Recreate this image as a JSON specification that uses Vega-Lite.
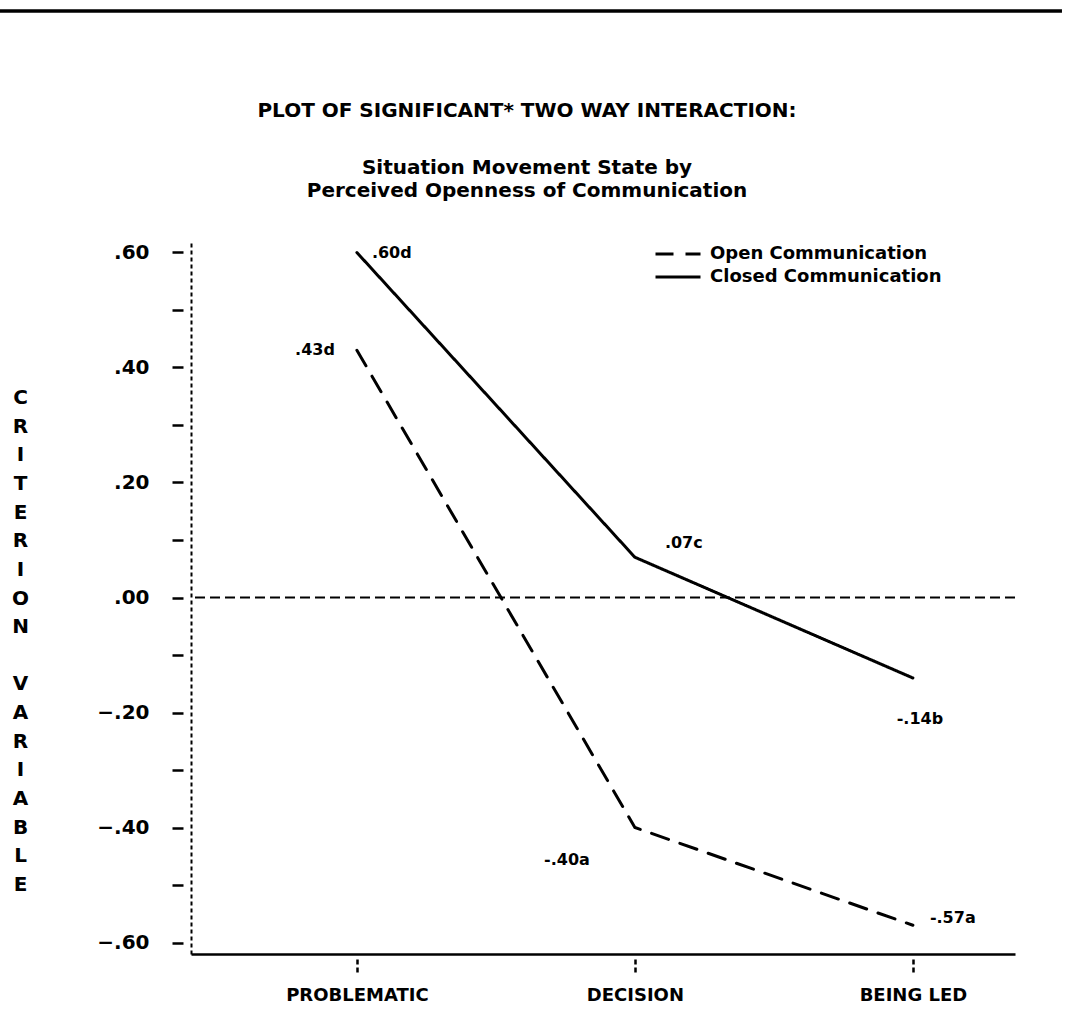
{
  "$schema": "https://vega.github.io/schema/vega-lite/v6.json",
  "autosize": {"type": "none"},
  "padding": {"left": 191, "top": 241, "right": 53, "bottom": 63},
  "width": 824,
  "height": 713,
  "background": "white",
  "config": {"font": "DejaVu Sans", "view": {"stroke": null}},
  "title": {
    "text": "PLOT OF SIGNIFICANT* TWO WAY INTERACTION:",
    "subtitle": ["Situation Movement State by", "Perceived Openness of Communication"],
    "anchor": "middle",
    "frame": "group",
    "dx": -76,
    "offset": -192,
    "font": "DejaVu Sans",
    "fontSize": 20,
    "fontWeight": "bold",
    "color": "black",
    "subtitleFont": "DejaVu Sans",
    "subtitleFontSize": 20,
    "subtitleFontWeight": "bold",
    "subtitleColor": "black",
    "subtitleLineHeight": 23,
    "subtitlePadding": 37
  },
  "datasets": {
    "means": [
      {"situation": "PROBLEMATIC", "communication": "Open Communication", "mean": 0.43, "label": ".43d"},
      {"situation": "DECISION", "communication": "Open Communication", "mean": -0.40, "label": "-.40a"},
      {"situation": "BEING LED", "communication": "Open Communication", "mean": -0.57, "label": "-.57a"},
      {"situation": "PROBLEMATIC", "communication": "Closed Communication", "mean": 0.60, "label": ".60d"},
      {"situation": "DECISION", "communication": "Closed Communication", "mean": 0.07, "label": ".07c"},
      {"situation": "BEING LED", "communication": "Closed Communication", "mean": -0.14, "label": "-.14b"}
    ]
  },
  "data": {"name": "means"},
  "resolve": {"scale": {"x": "independent"}, "axis": {"x": "independent"}},
  "layer": [
    {
      "data": {"values": [{"item": "page rule"}]},
      "mark": {"type": "rule", "clip": false, "color": "black", "strokeWidth": 3.5},
      "encoding": {
        "x": {"datum": -0.232, "type": "quantitative", "scale": {"domain": [0, 1], "nice": false, "zero": false}, "axis": null},
        "x2": {"datum": 1.057},
        "y": {"datum": 1.02, "type": "quantitative", "scale": {"domain": [-0.62, 0.62], "nice": false, "zero": false}}
      }
    },
    {
      "layer": [
        {
          "data": {"values": [{"item": "zero line"}]},
          "mark": {"type": "rule", "color": "black", "strokeWidth": 2, "strokeDash": [10, 5]},
          "encoding": {
            "y": {"datum": 0, "type": "quantitative"}
          }
        },
        {
          "mark": {"type": "line", "color": "black", "strokeWidth": 3, "strokeCap": "round", "clip": false},
          "encoding": {
            "x": {
              "field": "situation",
              "type": "nominal",
              "sort": ["PROBLEMATIC", "DECISION", "BEING LED"],
              "scale": {"type": "point", "padding": 0.482, "align": 0.619},
              "axis": {
                "title": null,
                "domainColor": "black",
                "domainWidth": 2.5,
                "tickColor": "black",
                "tickSize": 20,
                "tickWidth": 2.5,
                "tickDash": [0, 5, 5, 3, 5, 30],
                "labelFont": "DejaVu Sans",
                "labelFontSize": 18,
                "labelFontWeight": "bold",
                "labelColor": "black",
                "labelPadding": 12,
                "labelAngle": 0,
                "grid": false
              }
            },
            "y": {
              "field": "mean",
              "type": "quantitative",
              "scale": {"domain": [-0.62, 0.62], "nice": false, "zero": false},
              "axis": {
                "values": [-0.6, -0.55, -0.5, -0.45, -0.4, -0.35, -0.3, -0.25, -0.2, -0.15, -0.1, -0.05, 0, 0.05, 0.1, 0.15, 0.2, 0.25, 0.3, 0.35, 0.4, 0.45, 0.5, 0.55, 0.6],
                "labelExpr": "round(datum.value * 100) % 20 === 0 ? replace(format(datum.value, '.2f'), '0.', '.') : ''",
                "labelFont": "DejaVu Sans",
                "labelFontSize": 20,
                "labelFontWeight": "bold",
                "labelColor": "black",
                "labelPadding": 23,
                "labelOverlap": false,
                "labelFlush": false,
                "tickColor": "black",
                "tickSize": 19,
                "tickWidth": 2.5,
                "tickDash": [0, 8, 11, 30],
                "domainColor": "black",
                "domainWidth": 2,
                "domainDash": [4, 3],
                "grid": false,
                "title": ["C", "R", "I", "T", "E", "R", "I", "O", "N", "\u200b", "V", "A", "R", "I", "A", "B", "L", "E"],
                "titleAngle": 0,
                "titleAlign": "center",
                "titleBaseline": "middle",
                "titleX": -171,
                "titleY": 156.5,
                "titleFont": "DejaVu Sans",
                "titleFontSize": 20,
                "titleFontWeight": "bold",
                "titleColor": "black",
                "titleLineHeight": 28.65
              }
            },
            "strokeDash": {
              "field": "communication",
              "type": "nominal",
              "scale": {"domain": ["Open Communication", "Closed Communication"], "range": [[18, 12], [1, 0]]},
              "legend": {
                "title": null,
                "orient": "none",
                "legendX": 478,
                "legendY": 4,
                "symbolType": "M-3,0H3",
                "symbolSize": 225,
                "symbolStrokeWidth": 3,
                "symbolStrokeColor": "black",
                "symbolFillColor": "transparent",
                "labelFont": "DejaVu Sans",
                "labelFontSize": 18,
                "labelFontWeight": "bold",
                "labelColor": "black",
                "labelOffset": 23,
                "labelLimit": 500,
                "rowPadding": 5,
                "encode": {
                  "symbols": {
                    "update": {
                      "strokeDash": {"signal": "datum.value === 'Open Communication' ? [10, 6] : [1, 0]"}
                    }
                  }
                }
              }
            }
          }
        },
        {
          "transform": [{"filter": "datum.label === '.60d'"}],
          "mark": {"type": "text", "align": "left", "baseline": "middle", "dx": 15, "dy": 0, "font": "DejaVu Sans", "fontSize": 16, "fontWeight": "bold", "color": "black"},
          "encoding": {"x": {"field": "situation", "type": "nominal", "sort": ["PROBLEMATIC", "DECISION", "BEING LED"]}, "y": {"field": "mean", "type": "quantitative"}, "text": {"field": "label"}}
        },
        {
          "transform": [{"filter": "datum.label === '.43d'"}],
          "mark": {"type": "text", "align": "right", "baseline": "middle", "dx": -22, "dy": 0, "font": "DejaVu Sans", "fontSize": 16, "fontWeight": "bold", "color": "black"},
          "encoding": {"x": {"field": "situation", "type": "nominal", "sort": ["PROBLEMATIC", "DECISION", "BEING LED"]}, "y": {"field": "mean", "type": "quantitative"}, "text": {"field": "label"}}
        },
        {
          "transform": [{"filter": "datum.label === '.07c'"}],
          "mark": {"type": "text", "align": "left", "baseline": "middle", "dx": 30, "dy": -14, "font": "DejaVu Sans", "fontSize": 16, "fontWeight": "bold", "color": "black"},
          "encoding": {"x": {"field": "situation", "type": "nominal", "sort": ["PROBLEMATIC", "DECISION", "BEING LED"]}, "y": {"field": "mean", "type": "quantitative"}, "text": {"field": "label"}}
        },
        {
          "transform": [{"filter": "datum.label === '-.14b'"}],
          "mark": {"type": "text", "align": "center", "baseline": "middle", "dx": 7, "dy": 41, "font": "DejaVu Sans", "fontSize": 16, "fontWeight": "bold", "color": "black"},
          "encoding": {"x": {"field": "situation", "type": "nominal", "sort": ["PROBLEMATIC", "DECISION", "BEING LED"]}, "y": {"field": "mean", "type": "quantitative"}, "text": {"field": "label"}}
        },
        {
          "transform": [{"filter": "datum.label === '-.40a'"}],
          "mark": {"type": "text", "align": "right", "baseline": "middle", "dx": -45, "dy": 32, "font": "DejaVu Sans", "fontSize": 16, "fontWeight": "bold", "color": "black"},
          "encoding": {"x": {"field": "situation", "type": "nominal", "sort": ["PROBLEMATIC", "DECISION", "BEING LED"]}, "y": {"field": "mean", "type": "quantitative"}, "text": {"field": "label"}}
        },
        {
          "transform": [{"filter": "datum.label === '-.57a'"}],
          "mark": {"type": "text", "align": "left", "baseline": "middle", "dx": 17, "dy": -7, "font": "DejaVu Sans", "fontSize": 16, "fontWeight": "bold", "color": "black"},
          "encoding": {"x": {"field": "situation", "type": "nominal", "sort": ["PROBLEMATIC", "DECISION", "BEING LED"]}, "y": {"field": "mean", "type": "quantitative"}, "text": {"field": "label"}}
        }
      ]
    }
  ]
}
